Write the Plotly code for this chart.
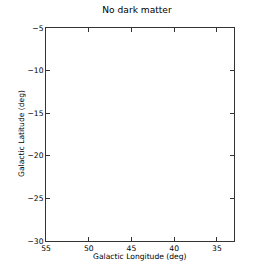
import plotly.graph_objects as go

# Data (the reference panel contains no plotted marks)
longitudes = []
latitudes = []
x_ticks = [55, 50, 45, 40, 35]
y_ticks = [-5, -10, -15, -20, -25, -30]
x_range = [55, 33]
y_range = [-30, -5]

W = H = 274
L, R, T, B = 46, 40, 28, 33
font = dict(family="DejaVu Sans", size=7.6, color="black")

fig = go.Figure()
fig.add_trace(go.Scatter(x=longitudes, y=latitudes, mode="markers",
                         marker=dict(color="black", size=3), showlegend=False))

axis_common = dict(showgrid=False, zeroline=False, showline=True, linecolor="#333333",
                   linewidth=1, mirror="allticks", ticks="inside", ticklen=4,
                   tickcolor="#333333", tickwidth=1, tickfont=font)

fig.update_xaxes(range=x_range, tickvals=x_ticks, ticktext=[str(v) for v in x_ticks], **axis_common)
fig.update_yaxes(range=y_range, tickvals=y_ticks,
                 ticktext=[("\u2212" + str(-v)) if v < 0 else str(v) for v in y_ticks],
                 **axis_common)

fig.update_layout(
    width=W, height=H,
    margin=dict(l=L, r=R, t=T, b=B, pad=0),
    paper_bgcolor="white", plot_bgcolor="white",
    font=font,
    title=dict(text="No dark matter", x=137 / W, xanchor="center",
               y=1 - 10 / H, yanchor="middle", font=dict(family="DejaVu Sans", size=9.1, color="black")),
    annotations=[
        dict(text="Galactic Longitude (deg)", xref="paper", yref="paper",
             x=(140 - L) / (W - L - R), y=-(256.5 - (H - B)) / (H - T - B), xanchor="center", yanchor="middle",
             showarrow=False, font=font),
        dict(text="Galactic Latitude (deg)", xref="paper", yref="paper",
             x=-(L - 21) / (W - L - R), y=1 - (134 - T) / (H - T - B), xanchor="center", yanchor="middle",
             textangle=-90, showarrow=False, font=font),
    ],
)

fig.write_html("out.html", config={"displayModeBar": False},
               post_script="document.body.style.margin='0';")
